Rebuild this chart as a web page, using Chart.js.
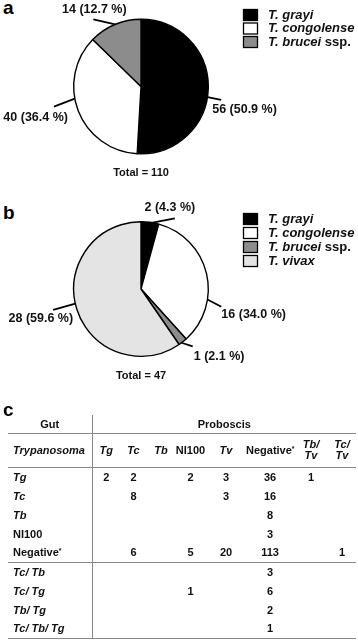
<!DOCTYPE html>
<html>
<head>
<meta charset="utf-8">
<script src="https://cdn.jsdelivr.net/npm/chart.js@4.4.1/dist/chart.umd.min.js"></script>
<style>
  body { margin: 0; background: #fff; font-family: "Liberation Sans", Arial, sans-serif; }
  #page { position: relative; width: 358px; height: 640px; overflow: hidden; }
  .panel { position: absolute; left: 3px; font-weight: bold; font-size: 19px; line-height: 19px; }
  canvas { position: absolute; left: 0; }
  #tbl { position: absolute; left: 8px; top: 415px; width: 348px; border-collapse: collapse;
         table-layout: fixed; font-size: 11px; font-weight: bold; color: #111; }
  #tbl td { padding: 0; text-align: center; vertical-align: middle; white-space: nowrap; }
  #tbl td.first { text-align: left; padding-left: 5px; border-right: 1.5px solid #888; }
  #tbl tr.h1 { height: 18px; }
  #tbl tr.h2 { height: 34px; }
  #tbl tr.row { height: 19px; }
  #tbl tr.ruled td { border-bottom: 1.5px solid #888; }
  #tbl .two { line-height: 11px; }
  #tbl .ast { font-size: 7px; vertical-align: 3px; }
</style>
</head>
<body>
<div id="page">
  <div class="panel" style="top:-2px">a</div>
  <canvas id="pieA" width="358" height="200" style="top:0"></canvas>
  <div class="panel" style="top:203px">b</div>
  <canvas id="pieB" width="358" height="200" style="top:200px"></canvas>
  <div class="panel" style="top:400px">c</div>
  <table id="tbl"></table>
</div>
<script>
// panel a: all positive flies
const speciesA = ['T. grayi', 'T. congolense', 'T. brucei ssp.'];
const countsA = [56, 40, 14];
// panel b
const speciesB = ['T. grayi', 'T. congolense', 'T. brucei ssp.', 'T. vivax'];
const countsB = [2, 16, 1, 28];
const sliceColours = ['#000000', '#ffffff', '#8c8c8c', '#e4e4e4'];

// panel c: gut vs proboscis
const gutLabels = ['Tg', 'Tc', 'Tb', 'NI100', 'Negative*', 'Tc/ Tb', 'Tc/ Tg', 'Tb/ Tg', 'Tc/ Tb/ Tg'];
const proboscisLabels = ['Tg', 'Tc', 'Tb', 'NI100', 'Tv', 'Negative*', 'Tb/ Tv', 'Tc/ Tv'];
const crossCounts = [
  [2, 2, null, 2, 3, 36, 1, null],
  [null, 8, null, null, 3, 16, null, null],
  [null, null, null, null, null, 8, null, null],
  [null, null, null, null, null, 3, null, null],
  [null, 6, null, 5, 20, 113, null, 1],
  [null, null, null, null, null, 3, null, null],
  [null, null, null, 1, null, 6, null, null],
  [null, null, null, null, null, 2, null, null],
  [null, null, null, null, null, 1, null, null]
];

const FONT = '"Liberation Sans", Arial, sans-serif';

// leader lines + labels, total and legend drawn on the pie canvas
const pieAnnotations = {
  id: 'pieAnnotations',
  afterDatasetsDraw(chart, args, opts) {
    const ctx = chart.ctx;
    const meta = chart.getDatasetMeta(0);
    const data = chart.data.datasets[0].data;
    const total = data.reduce((s, v) => s + v, 0);
    const rad = d => (d - 90) * Math.PI / 180;
    ctx.save();
    ctx.fillStyle = '#111';
    ctx.strokeStyle = '#000';
    ctx.textBaseline = 'middle';
    meta.data.forEach((arc, i) => {
      const L = opts.leaders[i];
      const r = arc.outerRadius;
      const x1 = arc.x + r * Math.cos(rad(L.from)), y1 = arc.y + r * Math.sin(rad(L.from));
      const x2 = arc.x + (r + L.len) * Math.cos(rad(L.to)), y2 = arc.y + (r + L.len) * Math.sin(rad(L.to));
      ctx.lineWidth = 1.8;
      ctx.beginPath();
      ctx.moveTo(x1, y1);
      ctx.lineTo(x2, y2);
      ctx.stroke();
      ctx.font = 'bold 12.5px ' + FONT;
      ctx.textAlign = L.align;
      ctx.fillText(data[i] + ' (' + (data[i] / total * 100).toFixed(1) + ' %)', x2 + L.dx, y2 + L.dy);
    });
    const arc0 = meta.data[0];
    ctx.font = 'bold 11px ' + FONT;
    ctx.textAlign = 'center';
    ctx.fillText('Total = ' + total, arc0.x, arc0.y + arc0.outerRadius + 19.5);

    // legend
    const lg = opts.legend;
    chart.data.labels.forEach((lab, i) => {
      const y = lg.y + i * lg.step;
      ctx.fillStyle = chart.data.datasets[0].backgroundColor[i];
      ctx.fillRect(lg.x, y - 6, 15, 12);
      ctx.lineWidth = 1.3;
      ctx.strokeRect(lg.x + 0.5, y - 5.5, 14, 11);
      ctx.fillStyle = '#111';
      ctx.textAlign = 'left';
      let ital = lab, rest = '';
      if (lab.endsWith(' ssp.')) { ital = lab.slice(0, -5); rest = ' ssp.'; }
      ctx.font = 'italic bold 13px ' + FONT;
      ctx.fillText(ital, lg.x + 25, y);
      if (rest) {
        const w = ctx.measureText(ital).width;
        ctx.font = 'bold 13px ' + FONT;
        ctx.fillText(rest, lg.x + 25 + w, y);
      }
    });
    ctx.restore();
  }
};

function makePie(id, labels, counts, padding, leaders, legend) {
  return new Chart(document.getElementById(id), {
    type: 'pie',
    data: {
      labels: labels,
      datasets: [{
        data: counts,
        backgroundColor: sliceColours.slice(0, counts.length),
        borderColor: '#000',
        borderWidth: 1.4
      }]
    },
    options: {
      responsive: false,
      animation: false,
      devicePixelRatio: 1,
      layout: { padding: padding },
      plugins: {
        legend: { display: false },
        tooltip: { enabled: false },
        pieAnnotations: { leaders: leaders, legend: legend }
      }
    },
    plugins: [pieAnnotations]
  });
}

makePie('pieA', speciesA, countsA,
  { left: 73, right: 149, top: 18.5, bottom: 45.5 },
  [
    { from: 99, to: 99.5, len: 14, align: 'left', dx: -9, dy: 10 },
    { from: 259.6, to: 257, len: 22, align: 'right', dx: 14, dy: 11 },
    { from: 337.4, to: 324.6, len: 15, align: 'center', dx: 1, dy: -10 }
  ],
  { x: 243, y: 15, step: 13.5 });

makePie('pieB', speciesB, countsB,
  { left: 73, right: 149, top: 21, bottom: 43 },
  [
    { from: 10, to: 25.6, len: 11, align: 'center', dx: -5, dy: -11 },
    { from: 99, to: 102.5, len: 15, align: 'left', dx: 0, dy: 8 },
    { from: 143, to: 138, len: 10, align: 'left', dx: 1, dy: 10 },
    { from: 257.4, to: 256.7, len: 23, align: 'right', dx: 20, dy: 9 }
  ],
  { x: 243, y: 19, step: 14 });

// table
function fmt(label, header) {
  if (label.startsWith('Negative')) return 'Negative<span class="ast">*</span>';
  if (label === 'NI100') return label;
  if (header && label.includes('/')) return '<i class="two" style="display:inline-block">' + label.replace(' ', '<br>') + '</i>';
  return '<i>' + label + '</i>';
}
const colWidths = [84, 28, 27, 28, 31, 40, 48, 34, 28];
let html = '<colgroup>' + colWidths.map(w => '<col style="width:' + w + 'px">').join('') + '</colgroup>';
html += '<tr class="h1 ruled"><td class="first" style="text-align:center;padding-left:0">Gut</td>' +
        '<td colspan="' + proboscisLabels.length + '">Proboscis</td></tr>';
html += '<tr class="h2 ruled"><td class="first"><i>Trypanosoma</i></td>' +
        proboscisLabels.map(l => '<td>' + fmt(l, true) + '</td>').join('') + '</tr>';
gutLabels.forEach((g, i) => {
  const ruled = (i === 4 || i === gutLabels.length - 1) ? ' ruled' : '';
  html += '<tr class="row' + ruled + '"><td class="first">' + fmt(g, false) + '</td>' +
          crossCounts[i].map(v => '<td>' + (v === null ? '' : v) + '</td>').join('') + '</tr>';
});
document.getElementById('tbl').innerHTML = html;
</script>
</body>
</html>
